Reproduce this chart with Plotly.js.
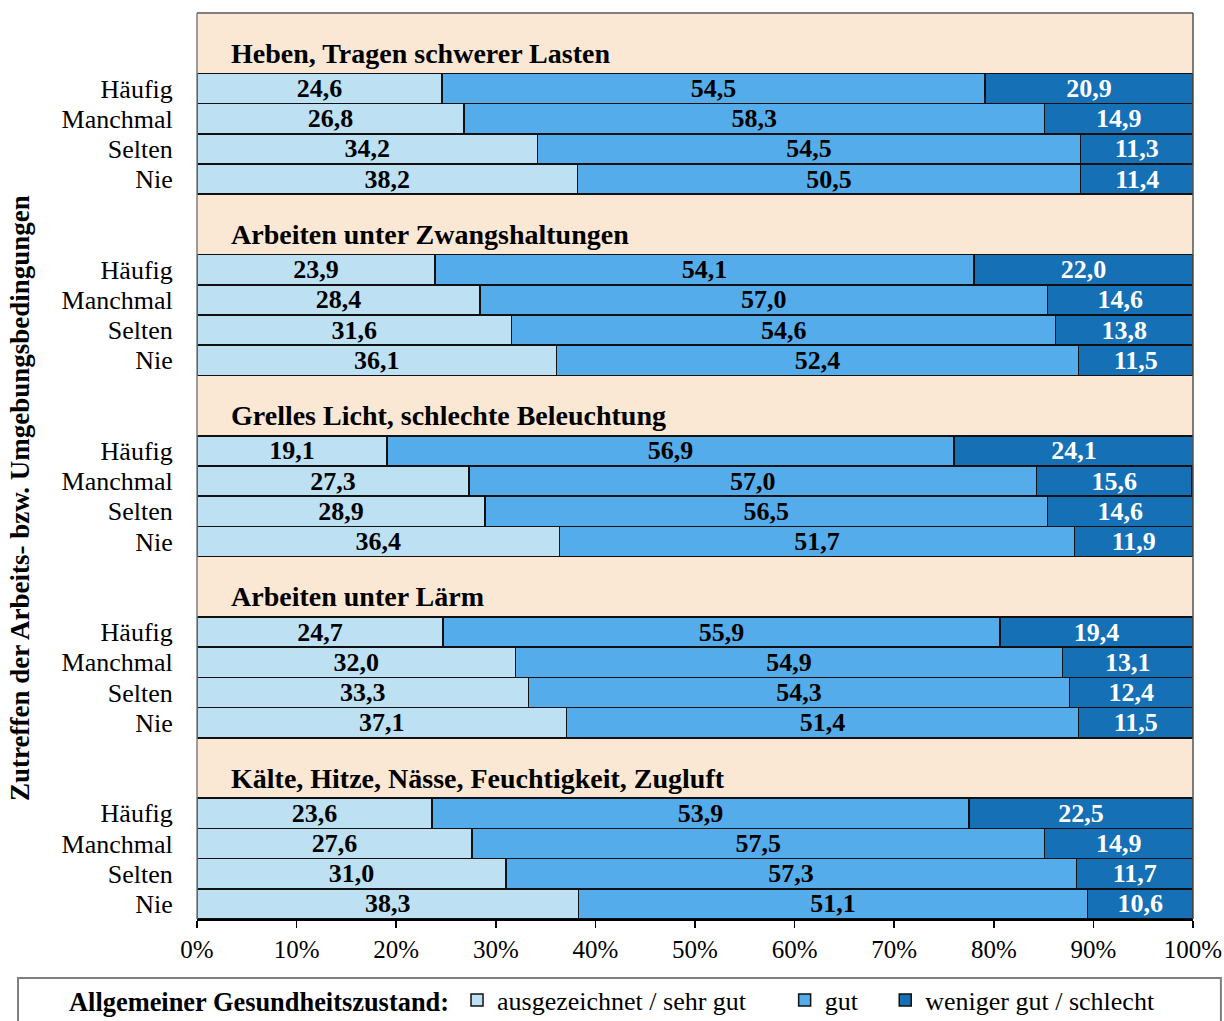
<!DOCTYPE html>
<html>
<head>
<meta charset="utf-8">
<script src="https://cdn.plot.ly/plotly-3.0.1.min.js"></script>
<style>
  html, body { margin: 0; padding: 0; background: #ffffff; }
  #chart { width: 1224px; height: 1021px; }
</style>
</head>
<body>
<div id="chart"></div>
<script>
// ---- Data ----
const groups = [
  "Heben, Tragen schwerer Lasten",
  "Arbeiten unter Zwangshaltungen",
  "Grelles Licht, schlechte Beleuchtung",
  "Arbeiten unter Lärm",
  "Kälte, Hitze, Nässe, Feuchtigkeit, Zugluft"
];
const rows = ["Häufig", "Manchmal", "Selten", "Nie"];
const seriesNames = ["ausgezeichnet / sehr gut", "gut", "weniger gut / schlecht"];

// values per group, row order: Häufig, Manchmal, Selten, Nie
const ausgezeichnet = [
  [24.6, 26.8, 34.2, 38.2],
  [23.9, 28.4, 31.6, 36.1],
  [19.1, 27.3, 28.9, 36.4],
  [24.7, 32.0, 33.3, 37.1],
  [23.6, 27.6, 31.0, 38.3]
];
const gut = [
  [54.5, 58.3, 54.5, 50.5],
  [54.1, 57.0, 54.6, 52.4],
  [56.9, 57.0, 56.5, 51.7],
  [55.9, 54.9, 54.3, 51.4],
  [53.9, 57.5, 57.3, 51.1]
];
const wenigerGut = [
  [20.9, 14.9, 11.3, 11.4],
  [22.0, 14.6, 13.8, 11.5],
  [24.1, 15.6, 14.6, 11.9],
  [19.4, 13.1, 12.4, 11.5],
  [22.5, 14.9, 11.7, 10.6]
];
const xTickVals = [0, 10, 20, 30, 40, 50, 60, 70, 80, 90, 100];
const xTickText = ["0%", "10%", "20%", "30%", "40%", "50%", "60%", "70%", "80%", "90%", "100%"];

// ---- Layout helpers ----
const SLOTS_PER_GROUP = 6; // blank, title, 4 rows
function rowPos(g, r) { return g * SLOTS_PER_GROUP + 2 + r; }

const yPos = [], yTickVals = [], yTickText = [];
groups.forEach((_, g) => rows.forEach((r, i) => {
  yPos.push(rowPos(g, i));
  yTickVals.push(rowPos(g, i));
  yTickText.push(r);
}));
const flat = arr => arr.reduce((a, b) => a.concat(b), []);

const colors = ["#BEE0F3", "#55ACEA", "#1570B6"];
const textColors = ["#000000", "#000000", "#ffffff"];
const seriesData = [flat(ausgezeichnet), flat(gut), flat(wenigerGut)];
const legendIds = ["legend", "legend2", "legend3"];
const FONT = "Liberation Serif";

const traces = seriesData.map((vals, k) => ({
  type: "bar",
  orientation: "h",
  name: seriesNames[k],
  legend: legendIds[k],
  x: vals,
  y: yPos,
  width: 1,
  marker: { color: colors[k], line: { color: "#111111", width: 1.5 } },
  text: vals.map(v => v.toFixed(1).replace(".", ",")),
  textposition: "inside",
  insidetextanchor: "middle",
  constraintext: "none",
  textfont: { family: FONT, size: 26, color: textColors[k], weight: "bold" },
  hoverinfo: "skip"
}));

const annotations = groups.map((t, g) => ({
  xref: "x", yref: "y",
  x: 3.2, y: g * SLOTS_PER_GROUP + 1,
  xanchor: "left", yanchor: "middle",
  yshift: 5,
  text: "<b>" + t + "</b>",
  showarrow: false,
  font: { family: FONT, size: 28, color: "#000000" }
}));
annotations.push({
  xref: "paper", yref: "paper",
  x: -0.1777, y: 0.4647,
  xanchor: "center", yanchor: "middle",
  textangle: -90,
  text: "<b>Zutreffen der Arbeits- bzw. Umgebungsbedingungen</b>",
  showarrow: false,
  font: { family: FONT, size: 27, color: "#000000" }
});

const shapes = [
  // plot frame (gray) top, left, right
  { type: "line", xref: "paper", yref: "paper", x0: 0, x1: 1, y0: 1, y1: 1, line: { color: "#7f7f7f", width: 2 } },
  { type: "line", xref: "paper", yref: "paper", x0: 0, x1: 0, y0: 0, y1: 1, line: { color: "#7f7f7f", width: 1.5 } },
  { type: "line", xref: "paper", yref: "paper", x0: 1, x1: 1, y0: 0, y1: 1, line: { color: "#555555", width: 1.5 } },
  // legend box
  { type: "rect", xref: "paper", yref: "paper", x0: -0.1797, x1: 1.028, y0: -0.065, y1: -0.2,
    line: { color: "#7f7f7f", width: 2 }, fillcolor: "rgba(0,0,0,0)" }
];

const legendBase = {
  orientation: "h",
  xanchor: "left",
  y: -0.0894, yanchor: "middle",
  bgcolor: "rgba(0,0,0,0)",
  borderwidth: 0,
  font: { family: FONT, size: 26, color: "#000000" },
  itemwidth: 30
};

const layout = {
  width: 1224, height: 1021,
  margin: { l: 197, r: 31, t: 13, b: 102, autoexpand: false },
  paper_bgcolor: "#ffffff",
  plot_bgcolor: "#FAE8D5",
  barmode: "stack",
  bargap: 0,
  font: { family: FONT, color: "#000000" },
  showlegend: true,
  legend: Object.assign({}, legendBase, {
    x: -0.1305,
    title: { text: "<b>Allgemeiner Gesundheitszustand:</b>", side: "left", font: { family: FONT, size: 26.4 } }
  }),
  legend2: Object.assign({}, legendBase, { x: 0.590 }),
  legend3: Object.assign({}, legendBase, { x: 0.691 }),
  xaxis: {
    range: [0, 100],
    tickvals: xTickVals,
    ticktext: xTickText,
    ticks: "outside",
    ticklen: 7,
    tickwidth: 1.5,
    tickcolor: "#000000",
    showline: true,
    linecolor: "#000000",
    linewidth: 1.5,
    showgrid: false,
    zeroline: false,
    tickfont: { family: FONT, size: 25, color: "#000000" },
    fixedrange: true
  },
  yaxis: {
    range: [29.5, -0.5],
    tickvals: yTickVals,
    ticktext: yTickText,
    ticks: "outside",
    ticklen: 18,
    tickcolor: "rgba(0,0,0,0)",
    showline: false,
    showgrid: false,
    zeroline: false,
    tickfont: { family: FONT, size: 26, color: "#000000" },
    fixedrange: true
  },
  annotations: annotations,
  shapes: shapes
};

Plotly.newPlot("chart", traces, layout, { displayModeBar: false, staticPlot: true });
</script>
</body>
</html>
